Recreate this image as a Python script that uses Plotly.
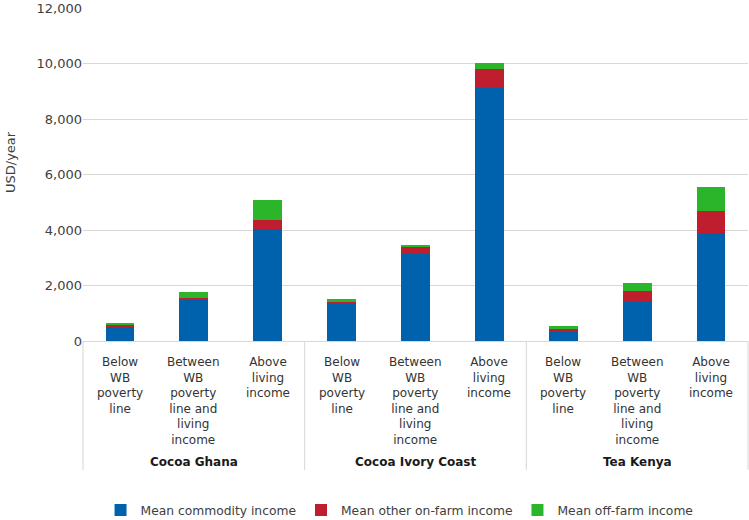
import plotly.graph_objects as go

groups = ["Cocoa Ghana", "Cocoa Ivory Coast", "Tea Kenya"]
levels = ["Below<br>WB<br>poverty<br>line",
          "Between<br>WB<br>poverty<br>line and<br>living<br>income",
          "Above<br>living<br>income"]
commodity = [520, 1480, 4020, 1350, 3130, 9100, 370, 1410, 3900]
other_onfarm = [70, 70, 340, 85, 240, 710, 75, 410, 770]
off_farm = [60, 210, 720, 70, 90, 210, 85, 280, 870]
series_names = ["Mean commodity income", "Mean other on-farm income", "Mean off-farm income"]
colors = ["#0062ad", "#be1e2d", "#2bb52b"]
y_ticks = [0, 2000, 4000, 6000, 8000, 10000, 12000]

n_lv = len(levels)
xpos = list(range(len(groups) * n_lv))
x_lab = [l for _ in groups for l in levels]

fig = go.Figure()
for name, vals, c in zip(series_names, [commodity, other_onfarm, off_farm], colors):
    fig.add_trace(go.Bar(x=xpos, y=vals, name=name, marker_color=c,
                         marker_line_width=0))

line_col = "#d9d6d3"
annotations = []
for i, lab in zip(xpos, x_lab):
    annotations.append(dict(text=lab, x=i, xref="x", y=-0.036, yref="paper",
                            xanchor="center", yanchor="top", showarrow=False,
                            font=dict(size=12, color="#333333")))
for gi, g in enumerate(groups):
    annotations.append(dict(text=f"<b>{g}</b>", x=gi * n_lv + (n_lv - 1) / 2, xref="x",
                            y=-0.3634, yref="paper", xanchor="center", yanchor="middle",
                            showarrow=False, font=dict(size=12, color="#1a1a1a")))
annotations.append(dict(text="USD/year", xref="paper", yref="paper", x=-0.11, y=0.537,
                        xanchor="center", yanchor="middle", textangle=-90, showarrow=False,
                        font=dict(size=13, color="#404040")))

shapes = []
for k in range(len(groups) + 1):
    shapes.append(dict(type="line", xref="paper", yref="paper", x0=k / len(groups),
                       x1=k / len(groups), y0=0, y1=-0.387,
                       line=dict(color=line_col, width=1)))

fig.update_layout(
    template="none",
    barmode="stack",
    bargap=0.61,
    width=749, height=520,
    margin=dict(l=83, r=1, t=8, b=179),
    paper_bgcolor="white", plot_bgcolor="white",
    font=dict(family="DejaVu Sans", size=12, color="#404040"),
    showlegend=True,
    legend=dict(orientation="h", x=0.476, xanchor="center",
                yref="container", y=1 - 510 / 520, yanchor="middle",
                font=dict(size=12.3, color="#404040"), traceorder="normal"),
    xaxis=dict(range=[-0.5, len(xpos) - 0.5], showticklabels=False, showgrid=False,
               zeroline=False, showline=True, linecolor=line_col, linewidth=1,
               ticks="", automargin=False),
    yaxis=dict(range=[0, 12000], tickvals=y_ticks, tickformat=",",
               showgrid=True, gridcolor=line_col, gridwidth=1,
               zeroline=False, showline=False, ticks="", automargin=False,
               tickfont=dict(size=13, color="#404040")),
    annotations=annotations,
    shapes=shapes,
)
fig.write_html("out.html", config={"displayModeBar": False},
               post_script="document.body.style.margin='0px';")
